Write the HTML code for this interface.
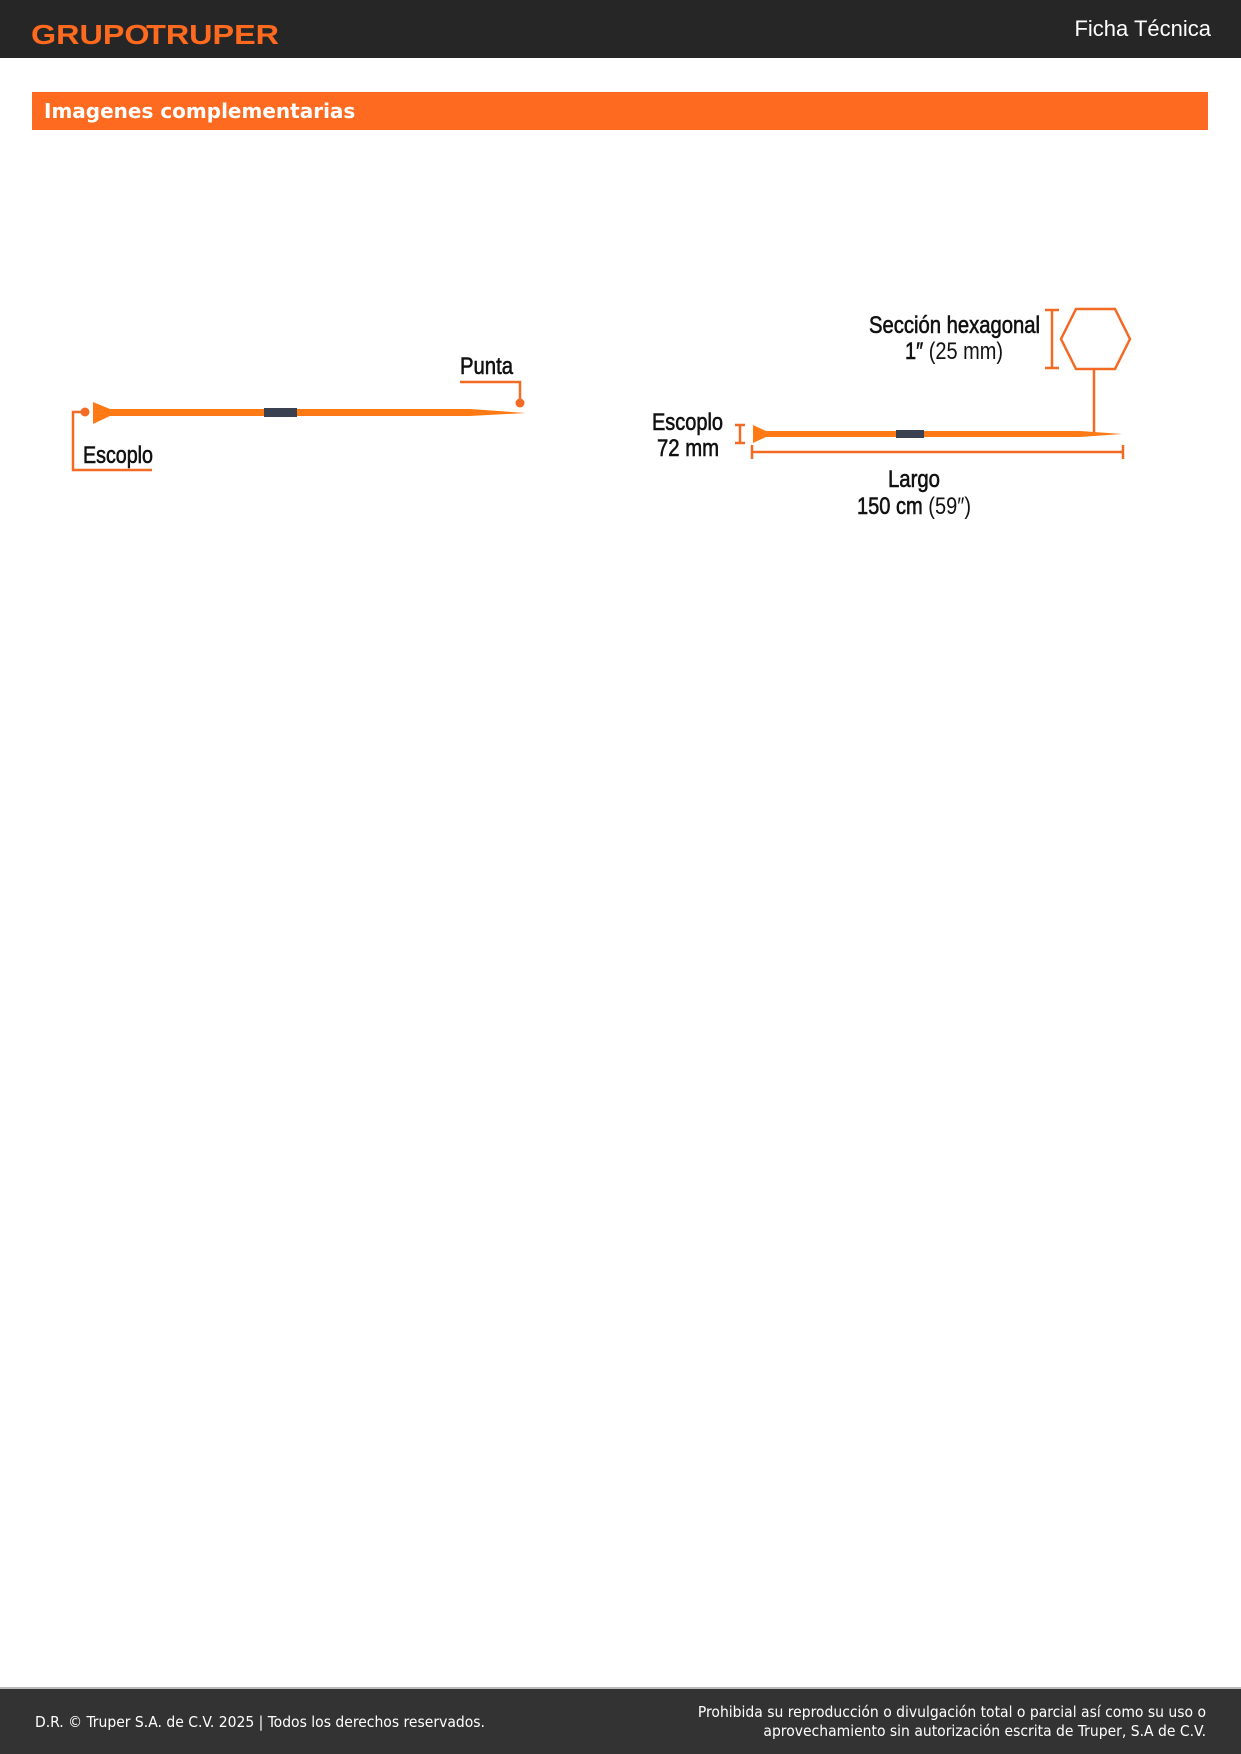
<!DOCTYPE html>
<html><head><meta charset="utf-8">
<style>
html,body{margin:0;padding:0;}
body{width:1241px;height:1754px;position:relative;background:#fff;font-family:"Liberation Sans",sans-serif;overflow:hidden;}
.hdr{position:absolute;left:0;top:0;width:1241px;height:58px;background:#262626;}
.ficha{position:absolute;right:30px;top:16px;color:#fff;font-size:22px;}
.bar{position:absolute;left:32px;top:92px;width:1176px;height:38px;background:#ff6a21;}
.bar span{position:absolute;left:12px;top:7px;color:#fff;font-weight:bold;font-size:20px;font-family:"DejaVu Sans",sans-serif;}
.ftr{position:absolute;left:0;top:1687px;width:1241px;height:67px;background:#333;border-top:2px solid #bbb;box-sizing:border-box;color:#fff;font-size:15.5px;font-family:"DejaVu Sans Condensed","DejaVu Sans",sans-serif;}
.fl{position:absolute;left:35px;top:24px;}
.fr{position:absolute;right:35px;top:14px;text-align:right;line-height:19px;}
svg{position:absolute;left:0;top:0;}
text{font-family:"Liberation Sans",sans-serif;fill:#111;}
.lb{stroke:#111;stroke-width:0.6px;}
</style></head><body>
<div class="hdr"><div class="ficha">Ficha Técnica</div></div>
<div class="bar"><span>Imagenes complementarias</span></div>
<svg width="1241" height="1754" viewBox="0 0 1241 1754">
<text x="31" y="44" font-size="28" font-weight="bold" style="fill:#ff6a1f" textLength="248" lengthAdjust="spacingAndGlyphs">GRUPO<tspan dx="-3">TRUPER</tspan></text>
<!-- left rod -->
<polygon points="93,402 110,409 470,409 526,413 470,416 110,416 93,424" fill="#ff7a14"/>
<rect x="264" y="408" width="33" height="9" fill="#3a4252"/>
<circle cx="85" cy="412" r="4.5" fill="#f26a24"/>
<polyline points="85,412 73,412 73,470 152,470" fill="none" stroke="#f26a24" stroke-width="2.5"/>
<text class="lb" x="83" y="463" font-size="24" textLength="70" lengthAdjust="spacingAndGlyphs">Escoplo</text>
<text class="lb" x="460" y="374" font-size="24" textLength="53" lengthAdjust="spacingAndGlyphs">Punta</text>
<polyline points="460,382 520,382 520,403" fill="none" stroke="#f26a24" stroke-width="2.5"/>
<circle cx="520" cy="403" r="4.5" fill="#f26a24"/>
<!-- right rod -->
<polygon points="753,425 766,431 1080,431 1122,434 1080,437 766,437 753,443" fill="#ff7a14"/>
<rect x="896" y="430" width="28" height="8" fill="#3a4252"/>
<g stroke="#f26a24" stroke-width="2.5" fill="none">
<line x1="740" y1="425" x2="740" y2="443"/><line x1="735" y1="425" x2="745" y2="425"/><line x1="735" y1="443" x2="745" y2="443"/>
<line x1="752" y1="452" x2="1123" y2="452"/><line x1="752" y1="445" x2="752" y2="459"/><line x1="1123" y1="445" x2="1123" y2="459"/>
<polygon points="1076,309 1115,309 1130,339 1115,369 1076,369 1061,339"/>
<line x1="1094" y1="369" x2="1094" y2="432"/>
<line x1="1052" y1="310" x2="1052" y2="368"/><line x1="1045" y1="310" x2="1059" y2="310"/><line x1="1045" y1="368" x2="1059" y2="368"/>
</g>
<text class="lb" x="652" y="430" font-size="24" textLength="71" lengthAdjust="spacingAndGlyphs">Escoplo</text>
<text class="lb" x="657" y="456" font-size="24" textLength="62" lengthAdjust="spacingAndGlyphs">72 mm</text>
<text class="lb" x="888" y="487" font-size="24" textLength="52" lengthAdjust="spacingAndGlyphs">Largo</text>
<text x="857" y="514" font-size="24" textLength="114" lengthAdjust="spacingAndGlyphs"><tspan class="lb">150 cm</tspan> (59″)</text>
<text class="lb" x="869" y="333" font-size="24" textLength="171" lengthAdjust="spacingAndGlyphs">Sección hexagonal</text>
<text x="905" y="359" font-size="24" textLength="98" lengthAdjust="spacingAndGlyphs"><tspan class="lb">1″</tspan> (25 mm)</text>
</svg>
<div class="ftr"><div class="fl">D.R. © Truper S.A. de C.V. 2025 | Todos los derechos reservados.</div>
<div class="fr">Prohibida su reproducción o divulgación total o parcial así como su uso o<br>aprovechamiento sin autorización escrita de Truper, S.A de C.V.</div></div>
</body></html>
